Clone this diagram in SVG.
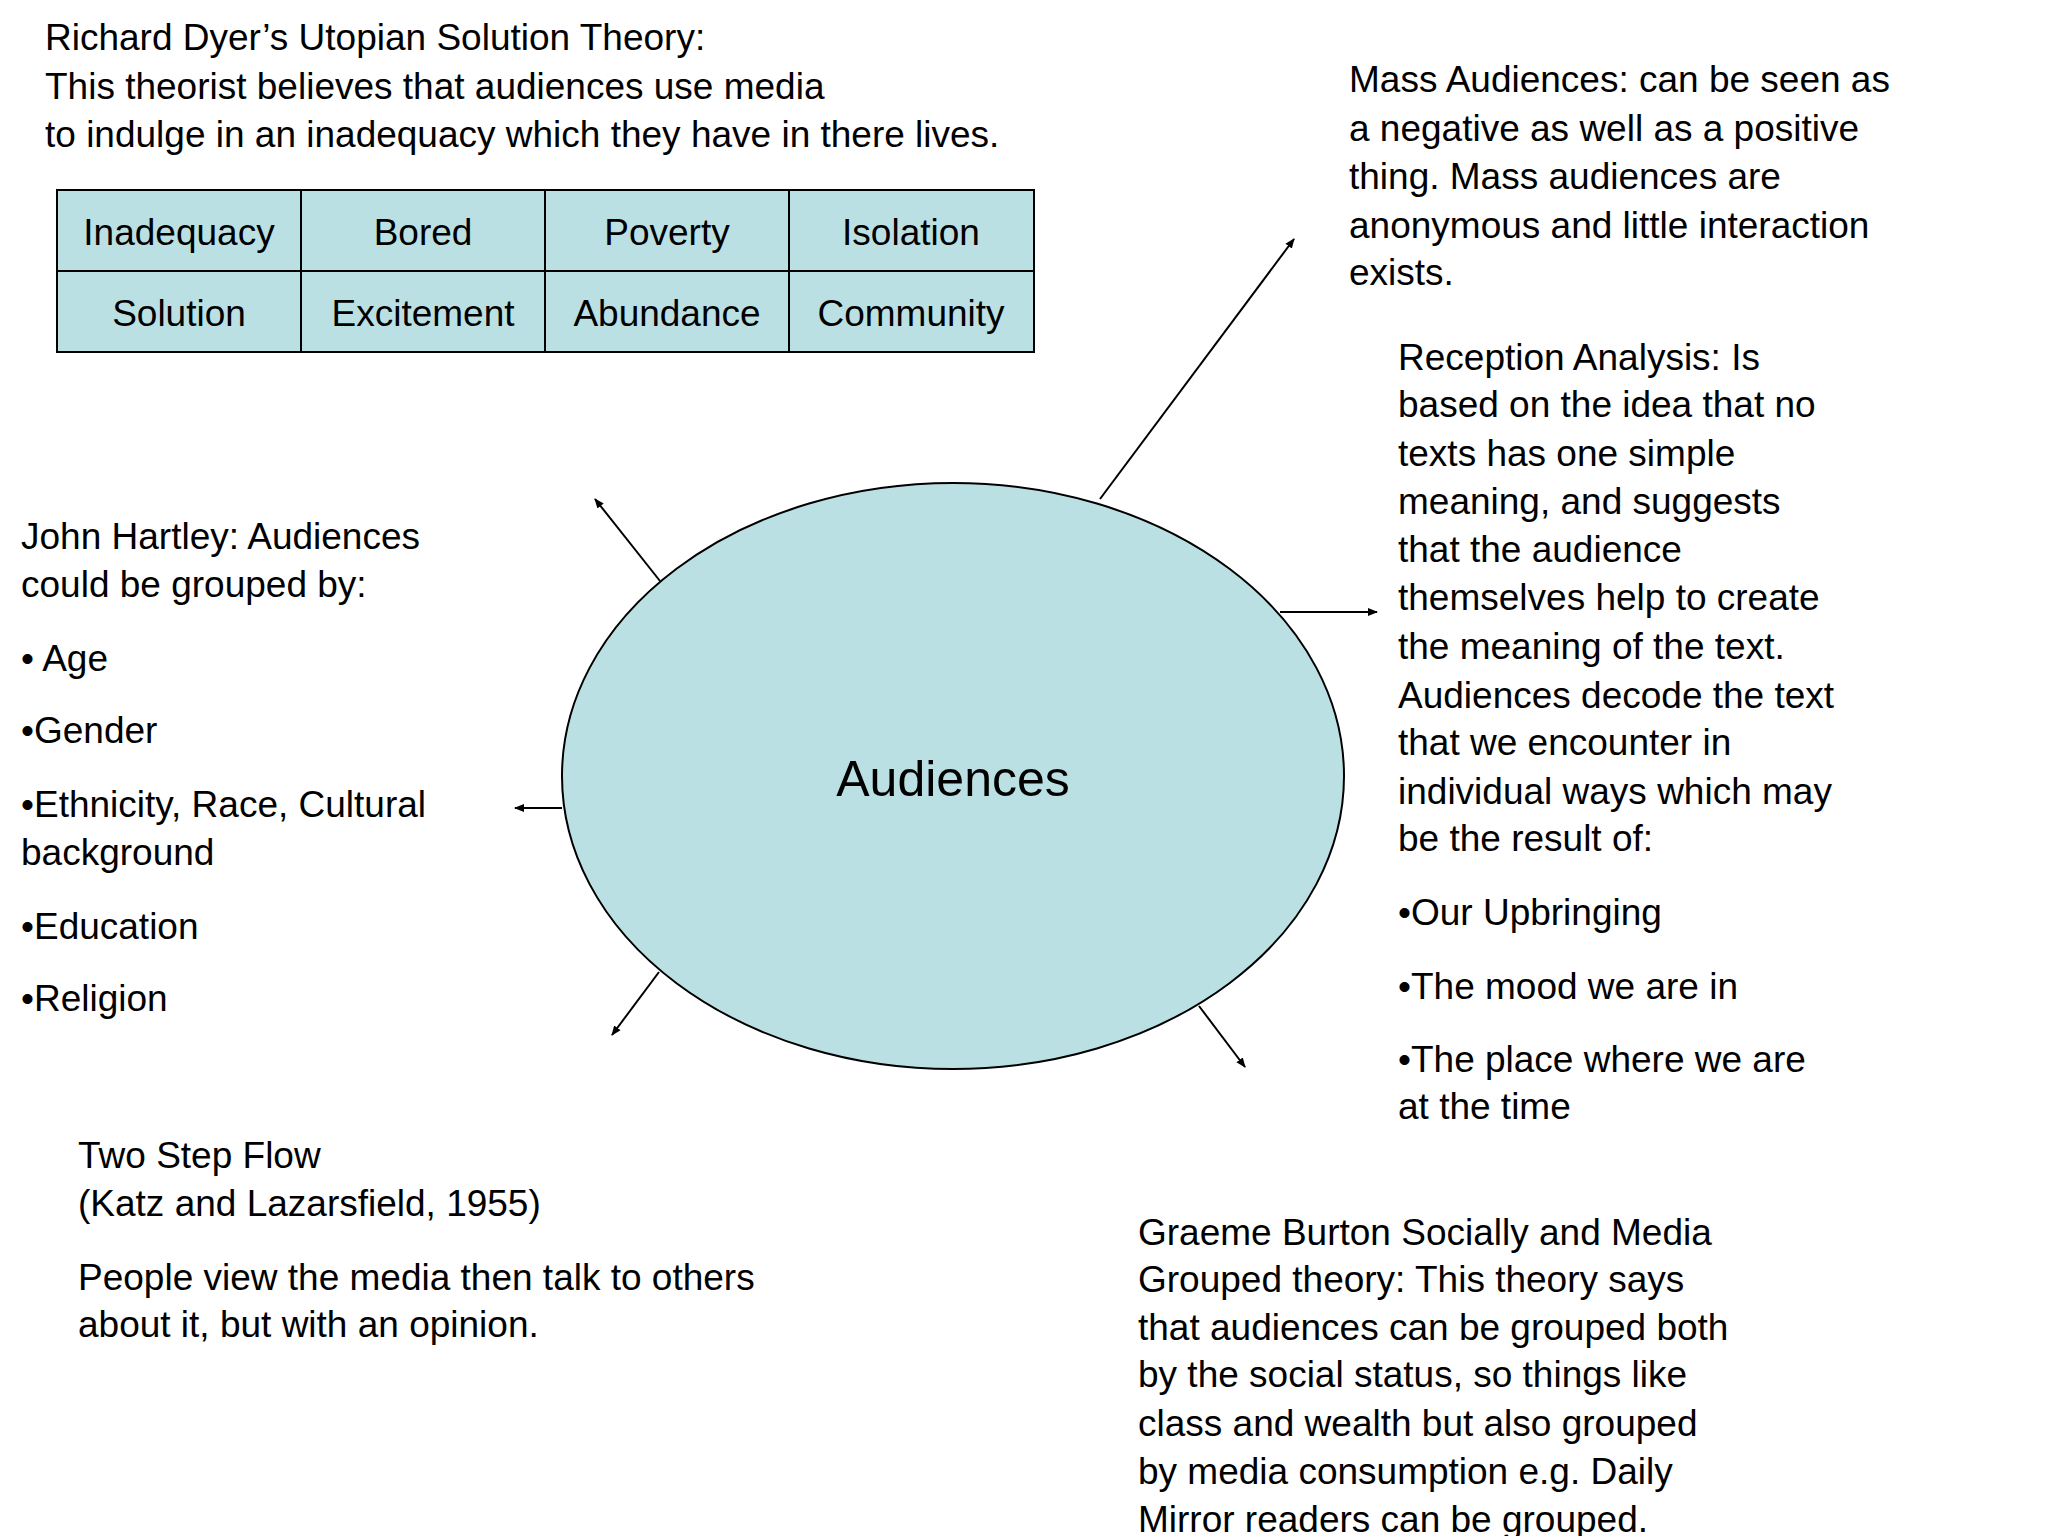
<svg xmlns="http://www.w3.org/2000/svg" width="2048" height="1536" viewBox="0 0 2048 1536">
<defs>
<marker id="ah" markerWidth="10" markerHeight="10" refX="9" refY="5" orient="auto" markerUnits="userSpaceOnUse" viewBox="0 0 10 10"><path d="M0,1 L10,5 L0,9 z" fill="#000"/></marker>
<style>
text{font-family:"Liberation Sans",Arial,sans-serif;font-size:37px;fill:#000}
.c{text-anchor:middle}
.cell{fill:#BBE0E3;stroke:#000;stroke-width:2}
.ar{stroke:#000;stroke-width:2;fill:none;marker-end:url(#ah)}
</style>
</defs>
<rect width="2048" height="1536" fill="#fff"/>
<g id="dyer">
<text x="45" y="50">Richard Dyer’s Utopian Solution Theory:</text>
<text x="45" y="99">This theorist believes that audiences use media</text>
<text x="45" y="147">to indulge in an inadequacy which they have in there lives.</text>
</g>
<g id="table">
<rect class="cell" x="57" y="190" width="244" height="81"/>
<rect class="cell" x="301" y="190" width="244" height="81"/>
<rect class="cell" x="545" y="190" width="244" height="81"/>
<rect class="cell" x="789" y="190" width="245" height="81"/>
<rect class="cell" x="57" y="271" width="244" height="81"/>
<rect class="cell" x="301" y="271" width="244" height="81"/>
<rect class="cell" x="545" y="271" width="244" height="81"/>
<rect class="cell" x="789" y="271" width="245" height="81"/>
<text class="c" x="179" y="245">Inadequacy</text>
<text class="c" x="423" y="245">Bored</text>
<text class="c" x="667" y="245">Poverty</text>
<text class="c" x="911" y="245">Isolation</text>
<text class="c" x="179" y="326">Solution</text>
<text class="c" x="423" y="326">Excitement</text>
<text class="c" x="667" y="326">Abundance</text>
<text class="c" x="911" y="326">Community</text>
</g>
<g id="audiences">
<ellipse cx="953" cy="776" rx="391" ry="293" fill="#BBE0E3" stroke="#000" stroke-width="2"/>
<text class="c" x="953" y="796" style="font-size:50px">Audiences</text>
</g>
<g id="connectors">
<line class="ar" x1="1100" y1="499" x2="1294" y2="239"/>
<line class="ar" x1="1280" y1="612" x2="1377" y2="612"/>
<line class="ar" x1="660" y1="581" x2="595" y2="499"/>
<line class="ar" x1="562" y1="808" x2="515" y2="808"/>
<line class="ar" x1="659" y1="972" x2="612" y2="1035"/>
<line class="ar" x1="1199" y1="1006" x2="1245" y2="1067"/>
</g>
<g id="mass">
<text x="1349" y="92">Mass Audiences: can be seen as</text>
<text x="1349" y="141">a negative as well as a positive</text>
<text x="1349" y="189">thing. Mass audiences are</text>
<text x="1349" y="238">anonymous and little interaction</text>
<text x="1349" y="285">exists.</text>
</g>
<g id="reception">
<text x="1398" y="370">Reception Analysis: Is</text>
<text x="1398" y="417">based on the idea that no</text>
<text x="1398" y="466">texts has one simple</text>
<text x="1398" y="514">meaning, and suggests</text>
<text x="1398" y="562">that the audience</text>
<text x="1398" y="610">themselves help to create</text>
<text x="1398" y="659">the meaning of the text.</text>
<text x="1398" y="708">Audiences decode the text</text>
<text x="1398" y="755">that we encounter in</text>
<text x="1398" y="804">individual ways which may</text>
<text x="1398" y="851">be the result of:</text>
<text x="1398" y="925">•Our Upbringing</text>
<text x="1398" y="999">•The mood we are in</text>
<text x="1398" y="1072">•The place where we are</text>
<text x="1398" y="1119">at the time</text>
</g>
<g id="hartley">
<text x="21" y="549">John Hartley: Audiences</text>
<text x="21" y="597">could be grouped by:</text>
<text x="21" y="671">• Age</text>
<text x="21" y="743">•Gender</text>
<text x="21" y="817">•Ethnicity, Race, Cultural</text>
<text x="21" y="865">background</text>
<text x="21" y="939">•Education</text>
<text x="21" y="1011">•Religion</text>
</g>
<g id="twostep">
<text x="78" y="1168">Two Step Flow</text>
<text x="78" y="1216">(Katz and Lazarsfield, 1955)</text>
<text x="78" y="1290">People view the media then talk to others</text>
<text x="78" y="1337">about it, but with an opinion.</text>
</g>
<g id="burton">
<text x="1138" y="1245">Graeme Burton Socially and Media</text>
<text x="1138" y="1292">Grouped theory: This theory says</text>
<text x="1138" y="1340">that audiences can be grouped both</text>
<text x="1138" y="1387">by the social status, so things like</text>
<text x="1138" y="1436">class and wealth but also grouped</text>
<text x="1138" y="1484">by media consumption e.g. Daily</text>
<text x="1138" y="1532">Mirror readers can be grouped.</text>
</g>
</svg>
